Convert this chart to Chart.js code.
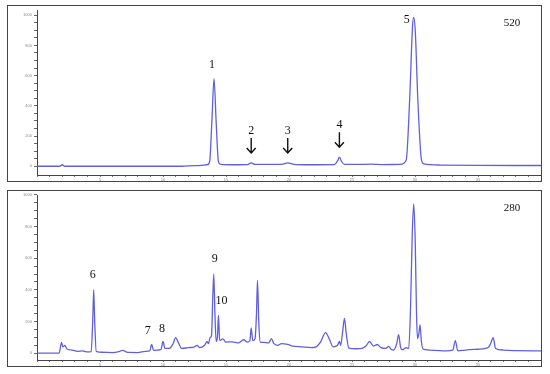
<!DOCTYPE html>
<html>
<head>
<meta charset="utf-8">
<script src="https://cdn.jsdelivr.net/npm/chart.js@4.4.0/dist/chart.umd.min.js"></script>
<style>
  body { margin: 0; background: #fff; width: 550px; height: 374px; position: relative; overflow: hidden; }
  .panel { position: absolute; left: 7px; width: 533px; height: 175px; border: 1px solid #444; }
  #p1 { top: 5px; }
  #p2 { top: 190px; }
  canvas { display: block; }
</style>
</head>
<body>
<div class="panel" id="p1"><canvas id="c520" width="533" height="175"></canvas></div>
<div class="panel" id="p2"><canvas id="c280" width="533" height="175"></canvas></div>
<script>
// retention time (min) and absorbance (mAU), 520 nm trace
var t520 = [0, 1.8, 2.0, 2.2, 11.5, 12.5, 13.5, 13.7, 13.88, 14.05, 14.22, 14.4, 14.6, 15.5, 16.7, 17.0, 17.3, 18.2, 19.4, 19.9, 20.4, 21.5, 23.6, 23.85, 24.0, 24.15, 24.4, 25.5, 26.5, 27.5, 28.8, 29.3, 29.58, 29.8, 29.9, 30.02, 30.22, 30.5, 30.7, 32, 35, 38, 40];
var v520 = [0, 0, 10, 0, 0, 4, 10, 30, 300, 580, 290, 30, 12, 10, 11, 22, 12, 12, 13, 22, 13, 10, 11, 35, 60, 35, 12, 12, 14, 11, 12, 40, 450, 920, 985, 900, 450, 50, 15, 8, 6, 5, 5];

// 280 nm trace
var t280 = [0,1.75,1.95,2.05,2.2,2.4,2.8,3.2,3.6,4.0,4.3,4.42,4.5,4.58,4.7,5.2,6.0,6.5,6.8,7.2,8.0,8.6,8.95,9.1,9.25,9.6,9.85,10.0,10.15,10.5,10.8,11.0,11.2,11.5,12.0,12.5,12.7,12.9,13.3,13.5,13.6,13.75,13.85,13.95,14.03,14.12,14.22,14.32,14.4,14.5,14.75,15.0,15.5,16.0,16.4,16.7,16.9,17.0,17.12,17.3,17.42,17.5,17.6,17.72,18.0,18.4,18.6,18.8,19.1,19.4,19.9,20.3,21.0,21.8,22.1,22.5,22.9,23.2,23.5,23.85,24.0,24.1,24.25,24.4,24.55,24.75,25.3,25.8,26.1,26.4,26.7,27.0,27.3,27.7,27.9,28.1,28.3,28.55,28.7,28.85,29.0,29.3,29.5,29.65,29.78,29.9,30.02,30.12,30.2,30.3,30.4,30.5,30.65,31.5,32.5,33.0,33.2,33.4,34.0,35.0,35.8,36.0,36.2,36.4,37.0,38.0,40];
var v280 = [0,0,68,40,50,25,20,12,15,8,10,200,400,200,12,6,4,10,18,5,4,12,15,55,18,20,25,74,30,30,60,98,70,30,35,40,50,35,50,75,60,100,110,350,500,250,75,100,240,80,90,70,72,65,85,70,80,160,80,90,250,460,200,70,68,65,92,60,50,60,55,45,40,35,38,70,130,90,40,50,74,50,130,220,120,32,28,30,45,74,45,55,35,30,43,25,20,60,117,40,22,35,30,300,750,943,700,250,92,120,178,80,25,18,15,20,80,15,20,25,35,60,98,30,20,16,15];

// numbered peaks
var peaks520 = ['1', '2', '3', '4', '5'];
var peakTimes520 = [14.05, 17.0, 19.9, 24.0, 29.9];
var peaks280 = ['6', '7', '8', '9', '10'];
var peakTimes280 = [4.5, 9.1, 10.0, 14.03, 14.4];

var yTicks = [0, 50, 100, 150, 200, 250, 300, 350, 400, 450, 500, 550, 600, 650, 700, 750, 800, 850, 900, 950, 1000];
var xMax = 40;

// where the peak labels sit, relative to the peak top
var place520 = [{dx: -2, dy: -14}, {arrow: true}, {arrow: true}, {arrow: true}, {dx: -7, dy: 2}];
var place280 = [{dx: -1, dy: -15}, {dx: -4, dy: -14}, {dx: -1, dy: -13}, {dx: 1, dy: -15}, {dx: 3, dy: -14}];

var peakLabels = {
  id: 'peakLabels',
  afterDatasetsDraw: function (chart, args, opts) {
    var ctx = chart.ctx;
    var xs = chart.scales.x, ys = chart.scales.y;
    var times = opts.times, vals = opts.values;
    ctx.save();
    ctx.fillStyle = '#111';
    ctx.strokeStyle = '#111';
    ctx.textAlign = 'center';
    ctx.textBaseline = 'middle';
    ctx.font = '12px "Liberation Serif", serif';
    opts.names.forEach(function (name, i) {
      var t = opts.peakTimes[i];
      // peak height read from the series itself
      var best = 0;
      for (var k = 1; k < times.length; k++) {
        if (Math.abs(times[k] - t) < Math.abs(times[best] - t)) best = k;
      }
      var px = xs.getPixelForValue(t);
      var py = ys.getPixelForValue(vals[best]);
      var p = opts.place[i];
      if (p.arrow) {
        ctx.fillText(name, px, py - 32);
        ctx.lineWidth = 1.4;
        ctx.beginPath();
        ctx.moveTo(px, py - 25);
        ctx.lineTo(px, py - 10);
        ctx.moveTo(px - 4.5, py - 15);
        ctx.lineTo(px, py - 10);
        ctx.lineTo(px + 4.5, py - 15);
        ctx.stroke();
      } else {
        ctx.fillText(name, px + p.dx, py + p.dy);
      }
    });
    ctx.font = '11px "Liberation Serif", serif';
    ctx.fillText(opts.wave, chart.chartArea.right - 29, chart.chartArea.top + 13);
    ctx.restore();
  }
};

function makeChart(id, times, values, yMin, yMax, names, peakTimes, place, wave) {
  var pts = times.map(function (t, i) { return {x: t, y: values[i]}; });
  return new Chart(document.getElementById(id), {
    type: 'line',
    data: {
      datasets: [{
        data: pts,
        borderColor: '#6060de',
        borderWidth: 1.3,
        pointRadius: 0,
        fill: false,
        cubicInterpolationMode: 'monotone'
      }]
    },
    options: {
      responsive: false,
      animation: false,
      layout: {padding: 0},
      plugins: {
        legend: {display: false},
        tooltip: {enabled: false},
        peakLabels: {times: times, values: values, names: names, peakTimes: peakTimes, place: place, wave: wave}
      },
      scales: {
        x: {
          type: 'linear',
          min: 0,
          max: xMax,
          border: {color: '#444', width: 1},
          grid: {drawOnChartArea: false, tickLength: 2, color: '#777'},
          ticks: {
            stepSize: 1,
            autoSkip: false,
            maxRotation: 0,
            padding: 0,
            color: '#888',
            font: {size: 4},
            callback: function (v) { return (v % 5 === 0 && v > 0 && v < xMax) ? String(v) : ''; }
          },
          afterFit: function (s) { s.height = 6; }
        },
        y: {
          min: yMin,
          max: yMax,
          border: {color: '#444', width: 1},
          grid: {drawOnChartArea: false, tickLength: 3, color: '#666'},
          afterBuildTicks: function (s) { s.ticks = yTicks.map(function (v) { return {value: v}; }); },
          ticks: {
            autoSkip: false,
            padding: 2,
            color: '#888',
            font: {size: 4},
            callback: function (v) { return v % 200 === 0 ? String(v) : ''; }
          },
          afterFit: function (s) { s.width = 29; }
        }
      }
    },
    plugins: [peakLabels]
  });
}

makeChart('c520', t520, v520, -58, 1032, peaks520, peakTimes520, place520, '520');
makeChart('c280', t280, v280, -43, 997, peaks280, peakTimes280, place280, '280');
</script>
</body>
</html>
